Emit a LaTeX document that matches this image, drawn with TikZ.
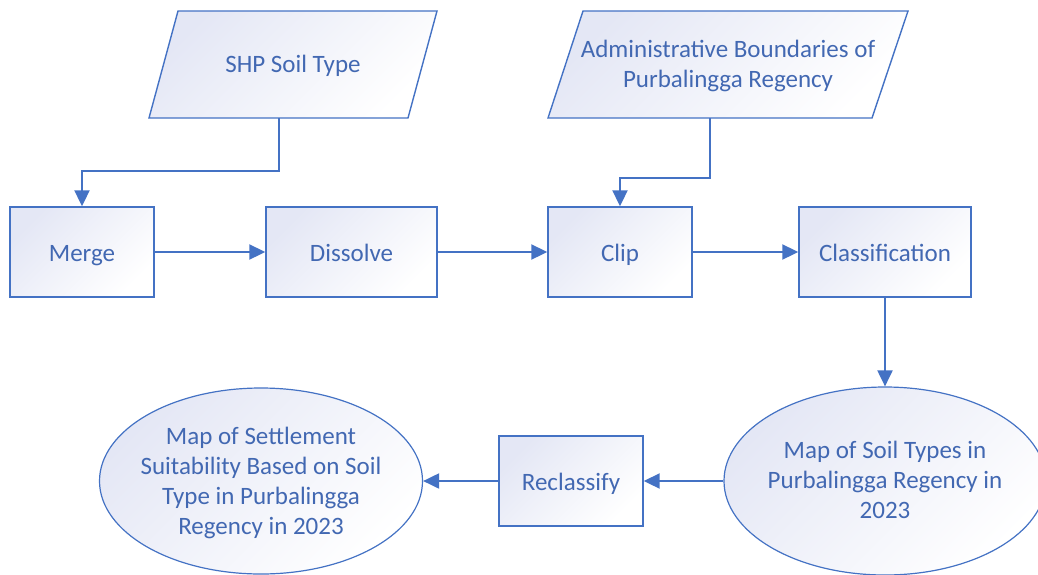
\documentclass[tikz,border=0pt]{standalone}
\usepackage{fontspec}
\setmainfont{Carlito}
\usetikzlibrary{arrows.meta,shapes.geometric}
\definecolor{lnc}{RGB}{68,114,196}
\definecolor{txc}{RGB}{66,104,178}
\definecolor{fillc}{RGB}{228,231,245}
\begin{document}
\begin{tikzpicture}[x=1pt,y=-1pt,
  shade/.style={top color=fillc, bottom color=white, shading angle=45},
  txt/.style={font=\fontsize{25}{30}\selectfont, text=txc, align=center},
  box/.style={shade, draw=lnc, line width=1.4pt, rectangle, minimum height=90pt, inner sep=0pt, txt, text height=22pt, text depth=3pt},
  ell/.style={shade, draw=lnc, line width=1.2pt, ellipse, inner sep=0pt},
  para/.style={shade, draw=lnc, line width=1.4pt},
  conn/.style={draw=lnc, line width=2pt, -{Triangle[length=16pt,width=15pt]}}]
\clip (0,0) rectangle (1038,574);
% input parallelograms
\path[para] (178,11) -- (437,11) -- (408,118) -- (149,118) -- cycle;
\node[txt] (shp) at (293,66) {SHP Soil Type};
\coordinate (shpb) at (278.5,118);
\path[para] (583,11) -- (908,11) -- (872,118) -- (548,118) -- cycle;
\node[txt] (adm) at (728,65.5) {Administrative Boundaries of\\Purbalingga Regency};
\coordinate (admb) at (710,118);
% process boxes
\node[box, minimum width=144pt] (merge) at (82,252) {Merge};
\node[box, minimum width=171pt] (dissolve) at (351.5,252) {Dissolve};
\node[box, minimum width=144pt] (clip) at (620,252) {Clip};
\node[box, minimum width=172pt] (class) at (885,252) {Classification};
\node[box, minimum width=144pt] (recl) at (571,481) {Reclassify};
% ellipses
\node[ell, minimum width=322pt, minimum height=188pt] (soil) at (885,481) {};
\node[txt] (soiltxt) at ([yshift=1pt]soil.center) {Map of Soil Types in\\Purbalingga Regency in\\2023};
\node[ell, minimum width=323pt, minimum height=186pt] (suit) at (261,481) {};
\node[txt] (suittxt) at ([yshift=-2pt]suit.center) {Map of Settlement\\Suitability Based on Soil\\Type in Purbalingga\\Regency in 2023};
% connectors
\draw[conn] (shpb) -- ++(0,53) -| (merge.north);
\draw[conn] (admb) -- ++(0,60) -| (clip.north);
\draw[conn] (merge) -- (dissolve);
\draw[conn] (dissolve) -- (clip);
\draw[conn] (clip) -- (class);
\draw[conn] (class) -- (soil);
\draw[conn] (soil) -- (recl);
\draw[conn] (recl) -- (suit);
\end{tikzpicture}
\end{document}
